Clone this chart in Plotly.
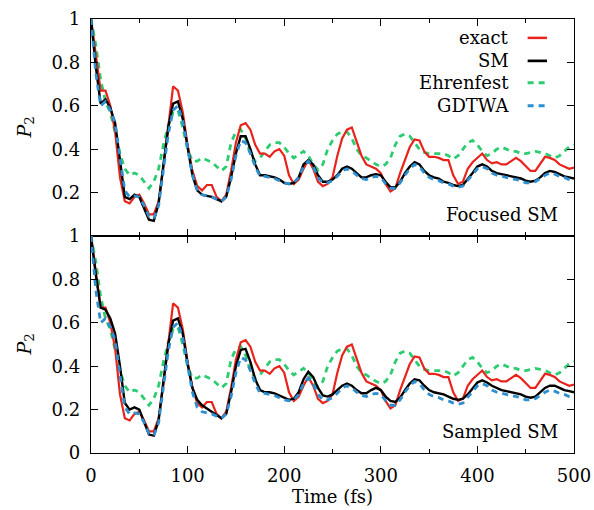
import plotly.graph_objects as go
from plotly.subplots import make_subplots

time_fs = list(range(0, 501, 5))

exact = [1.00, 0.84, 0.67, 0.67, 0.60, 0.48, 0.27, 0.16, 0.15, 0.18,
         0.19, 0.15, 0.10, 0.10, 0.16, 0.32, 0.52, 0.69, 0.67, 0.57,
         0.42, 0.30, 0.23, 0.21, 0.235, 0.235, 0.18, 0.16, 0.19, 0.30,
         0.43, 0.51, 0.52, 0.49, 0.42, 0.38, 0.38, 0.365, 0.39, 0.40,
         0.37, 0.28, 0.24, 0.26, 0.31, 0.35, 0.31, 0.25, 0.23, 0.24,
         0.27, 0.37, 0.45, 0.49, 0.50, 0.43, 0.37, 0.33, 0.32, 0.31,
         0.29, 0.24, 0.205, 0.22, 0.29, 0.35, 0.41, 0.445, 0.44, 0.39,
         0.365, 0.365, 0.36, 0.35, 0.35, 0.28, 0.24, 0.25, 0.31, 0.34,
         0.36, 0.38, 0.35, 0.335, 0.34, 0.33, 0.33, 0.345, 0.36, 0.345,
         0.32, 0.30, 0.30, 0.33, 0.365, 0.36, 0.35, 0.33, 0.32, 0.31,
         0.315]

ehrenfest = [1.00, 0.88, 0.72, 0.62, 0.57, 0.48, 0.38, 0.31, 0.28, 0.29,
             0.28, 0.25, 0.22, 0.25, 0.31, 0.42, 0.51, 0.57, 0.58, 0.50,
             0.40, 0.345, 0.345, 0.36, 0.35, 0.34, 0.32, 0.30, 0.32, 0.43,
             0.48, 0.49, 0.45, 0.38, 0.345, 0.36, 0.39, 0.42, 0.43, 0.43,
             0.41, 0.38, 0.36, 0.375, 0.39, 0.37, 0.33, 0.305, 0.33, 0.40,
             0.44, 0.47, 0.48, 0.48, 0.45, 0.40, 0.37, 0.36, 0.345, 0.33,
             0.32, 0.33, 0.36, 0.42, 0.46, 0.47, 0.46, 0.43, 0.40, 0.385,
             0.38, 0.38, 0.38, 0.38, 0.37, 0.355, 0.37, 0.40, 0.43, 0.44,
             0.42, 0.39, 0.37, 0.38, 0.40, 0.41, 0.40, 0.39, 0.39, 0.38,
             0.38, 0.385, 0.39, 0.385, 0.38, 0.37, 0.36, 0.37, 0.39, 0.41,
             0.42]

gdtwa = [1.00, 0.75, 0.60, 0.62, 0.58, 0.52, 0.36, 0.21, 0.18, 0.185,
         0.18, 0.14, 0.09, 0.08, 0.14, 0.30, 0.47, 0.58, 0.60, 0.53,
         0.40, 0.28, 0.21, 0.19, 0.185, 0.18, 0.17, 0.16, 0.18, 0.26,
         0.37, 0.44, 0.43, 0.38, 0.32, 0.275, 0.275, 0.27, 0.265, 0.255,
         0.245, 0.24, 0.245, 0.27, 0.32, 0.345, 0.32, 0.27, 0.245, 0.245,
         0.255, 0.275, 0.30, 0.31, 0.30, 0.28, 0.265, 0.26, 0.27, 0.275,
         0.27, 0.24, 0.22, 0.22, 0.245, 0.28, 0.31, 0.33, 0.32, 0.29,
         0.27, 0.26, 0.255, 0.245, 0.24, 0.23, 0.225, 0.23, 0.255, 0.28,
         0.31, 0.32, 0.31, 0.29, 0.28, 0.275, 0.27, 0.265, 0.26, 0.255,
         0.245, 0.245, 0.25, 0.265, 0.28, 0.29, 0.285, 0.275, 0.27, 0.26,
         0.255]

sm_focused = [1.00, 0.78, 0.61, 0.63, 0.59, 0.52, 0.35, 0.18, 0.17, 0.19,
              0.18, 0.13, 0.075, 0.07, 0.15, 0.33, 0.50, 0.61, 0.62, 0.54,
              0.40, 0.28, 0.21, 0.19, 0.185, 0.18, 0.17, 0.16, 0.18, 0.27,
              0.38, 0.46, 0.46, 0.40, 0.33, 0.28, 0.28, 0.275, 0.27, 0.26,
              0.245, 0.24, 0.245, 0.27, 0.33, 0.35, 0.33, 0.28, 0.25, 0.25,
              0.26, 0.28, 0.31, 0.32, 0.31, 0.29, 0.27, 0.27, 0.28, 0.285,
              0.28, 0.25, 0.225, 0.225, 0.25, 0.29, 0.32, 0.34, 0.33, 0.30,
              0.28, 0.27, 0.265, 0.25, 0.245, 0.235, 0.23, 0.235, 0.26, 0.29,
              0.32, 0.33, 0.32, 0.30, 0.29, 0.285, 0.28, 0.275, 0.27, 0.265,
              0.255, 0.25, 0.255, 0.27, 0.29, 0.30, 0.295, 0.285, 0.275, 0.27,
              0.265]

sm_sampled = [1.00, 0.82, 0.67, 0.66, 0.62, 0.55, 0.40, 0.23, 0.20, 0.21,
              0.20, 0.14, 0.085, 0.08, 0.15, 0.33, 0.50, 0.61, 0.62, 0.55,
              0.41, 0.30, 0.245, 0.22, 0.205, 0.19, 0.175, 0.16, 0.18, 0.28,
              0.40, 0.475, 0.48, 0.42, 0.34, 0.29, 0.28, 0.28, 0.275, 0.265,
              0.255, 0.245, 0.25, 0.28, 0.34, 0.375, 0.35, 0.30, 0.265, 0.26,
              0.27, 0.29, 0.31, 0.32, 0.31, 0.29, 0.275, 0.275, 0.29, 0.30,
              0.29, 0.26, 0.24, 0.235, 0.255, 0.29, 0.32, 0.34, 0.335, 0.31,
              0.29, 0.28, 0.275, 0.27, 0.26, 0.25, 0.245, 0.25, 0.27, 0.30,
              0.325, 0.335, 0.325, 0.31, 0.30, 0.29, 0.285, 0.28, 0.275, 0.27,
              0.26, 0.255, 0.26, 0.28, 0.30, 0.31, 0.31, 0.30, 0.29, 0.285,
              0.28]

series_names = ["exact", "SM", "Ehrenfest", "GDTWA"]
colors = {"exact": "#e8231b", "SM": "#000000", "Ehrenfest": "#2ecc71", "GDTWA": "#2e8fd0"}
dashes = {"exact": "solid", "SM": "solid", "Ehrenfest": "6px,5px", "GDTWA": "6px,5px"}
widths = {"exact": 2.2, "SM": 2.4, "Ehrenfest": 2.8, "GDTWA": 2.8}
panel_labels = ["Focused SM", "Sampled SM"]

FONT = "'DejaVu Serif', 'Liberation Serif', serif"

fig = make_subplots(rows=2, cols=1, shared_xaxes=True, vertical_spacing=0)

panels = [
    {"exact": exact, "SM": sm_focused, "Ehrenfest": ehrenfest, "GDTWA": gdtwa},
    {"exact": exact, "SM": sm_sampled, "Ehrenfest": ehrenfest, "GDTWA": gdtwa},
]
draw_order = ["Ehrenfest", "exact", "SM", "GDTWA"]
for r, data in enumerate(panels, start=1):
    for name in draw_order:
        fig.add_trace(go.Scatter(
            x=time_fs, y=data[name], mode="lines", name=name,
            showlegend=False,
            line=dict(color=colors[name], width=widths[name], dash=dashes[name]),
        ), row=r, col=1)

axis_common = dict(
    showline=True, linecolor="black", linewidth=1.3, mirror="ticks",
    ticks="inside", ticklen=7, tickwidth=1.2, tickcolor="black",
    showgrid=False, zeroline=False, automargin=False,
    tickfont=dict(family=FONT, size=18, color="black"),
)
fig.update_xaxes(range=[0, 500], tickvals=[0, 100, 200, 300, 400, 500],
                 ticklabelstandoff=6,
                 minor=dict(ticks="inside", ticklen=4, tickwidth=1.2, tickcolor="black",
                            tickvals=[50, 150, 250, 350, 450], showgrid=False),
                 **axis_common)
fig.update_xaxes(showticklabels=False, row=1, col=1)
fig.update_xaxes(row=2, col=1, title=dict(text="Time (fs)", font=dict(family=FONT, size=18, color="black"), standoff=0))

fig.update_yaxes(range=[0, 1], ticklabelstandoff=6, **axis_common)
fig.update_yaxes(tickvals=[0.2, 0.4, 0.6, 0.8, 1.0],
                 ticktext=["0.2", "0.4", "0.6", "0.8", "1"], row=1, col=1)
fig.update_yaxes(tickvals=[0, 0.2, 0.4, 0.6, 0.8, 1.0],
                 ticktext=["0", "0.2", "0.4", "0.6", "0.8", "1"], row=2, col=1)

annotations = []
for yref in ["y domain", "y2 domain"]:
    annotations.append(dict(text="<i>P</i><sub>2</sub>", xref="paper", yref=yref,
                            x=0, y=0.5, xshift=-66, textangle=-90, showarrow=False,
                            xanchor="center", yanchor="middle",
                            font=dict(family=FONT, size=19, color="black")))
for yref, lab in zip(["y domain", "y2 domain"], panel_labels):
    annotations.append(dict(text=lab, xref="paper", yref=yref, x=0.97, y=0.04,
                            xanchor="right", yanchor="bottom", showarrow=False,
                            font=dict(family=FONT, size=18, color="black")))

shapes = []
legend_y = [0.913, 0.807, 0.706, 0.60]
for name, ly in zip(series_names, legend_y):
    annotations.append(dict(text=name, xref="x", yref="y", x=435, y=ly,
                            xanchor="right", yanchor="middle", showarrow=False,
                            font=dict(family=FONT, size=18, color="black")))
    shapes.append(dict(type="line", xref="x", yref="y", x0=452, x1=472, y0=ly, y1=ly,
                       line=dict(color=colors[name], width=widths[name] + 0.3, dash=dashes[name])))

fig.update_layout(
    width=594, height=510,
    margin=dict(l=91, r=20, t=19, b=57, autoexpand=False),
    plot_bgcolor="white", paper_bgcolor="white",
    annotations=annotations, shapes=shapes,
    font=dict(family=FONT, size=18, color="black"),
)

fig.write_html("out.html")
